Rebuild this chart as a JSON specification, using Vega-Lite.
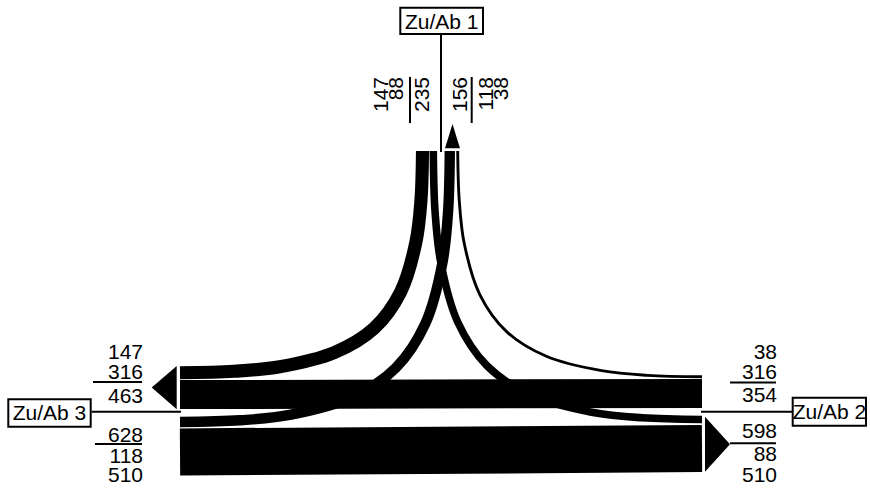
{
  "$schema": "https://vega.github.io/schema/vega-lite/v6.json",
  "width": 870,
  "height": 488,
  "autosize": {"type": "none"},
  "padding": 0,
  "background": "white",
  "config": {"view": {"stroke": null}},
  "datasets": {
    "flows": [
      {"flow": "1-3", "value": 147, "seq": 0, "x": 422.5, "y": 151},
      {"flow": "1-3", "value": 147, "seq": 1, "x": 420.95, "y": 200.3},
      {"flow": "1-3", "value": 147, "seq": 2, "x": 415.9, "y": 242.1},
      {"flow": "1-3", "value": 147, "seq": 3, "x": 400.5, "y": 292.2},
      {"flow": "1-3", "value": 147, "seq": 4, "x": 374.0, "y": 328.4},
      {"flow": "1-3", "value": 147, "seq": 5, "x": 334.5, "y": 352.5},
      {"flow": "1-3", "value": 147, "seq": 6, "x": 279.7, "y": 366.7},
      {"flow": "1-3", "value": 147, "seq": 7, "x": 233.9, "y": 371.3},
      {"flow": "1-3", "value": 147, "seq": 8, "x": 180, "y": 372.7},
      {"flow": "1-2", "value": 88, "seq": 0, "x": 433.3, "y": 151},
      {"flow": "1-2", "value": 88, "seq": 1, "x": 435.0, "y": 210.7},
      {"flow": "1-2", "value": 88, "seq": 2, "x": 440.6, "y": 261.4},
      {"flow": "1-2", "value": 88, "seq": 3, "x": 457.7, "y": 322.0},
      {"flow": "1-2", "value": 88, "seq": 4, "x": 487.0, "y": 365.8},
      {"flow": "1-2", "value": 88, "seq": 5, "x": 530.8, "y": 395.1},
      {"flow": "1-2", "value": 88, "seq": 6, "x": 591.6, "y": 412.2},
      {"flow": "1-2", "value": 88, "seq": 7, "x": 642.2, "y": 417.8},
      {"flow": "1-2", "value": 88, "seq": 8, "x": 702, "y": 419.5},
      {"flow": "3-1", "value": 118, "seq": 0, "x": 449.8, "y": 151},
      {"flow": "3-1", "value": 118, "seq": 1, "x": 448.1, "y": 211.3},
      {"flow": "3-1", "value": 118, "seq": 2, "x": 442.5, "y": 262.4},
      {"flow": "3-1", "value": 118, "seq": 3, "x": 425.3, "y": 323.6},
      {"flow": "3-1", "value": 118, "seq": 4, "x": 395.8, "y": 367.8},
      {"flow": "3-1", "value": 118, "seq": 5, "x": 351.9, "y": 397.3},
      {"flow": "3-1", "value": 118, "seq": 6, "x": 290.9, "y": 414.7},
      {"flow": "3-1", "value": 118, "seq": 7, "x": 240.0, "y": 420.3},
      {"flow": "3-1", "value": 118, "seq": 8, "x": 180, "y": 422},
      {"flow": "2-1", "value": 38, "seq": 0, "x": 457.7, "y": 151},
      {"flow": "2-1", "value": 38, "seq": 1, "x": 459.3, "y": 201.2},
      {"flow": "2-1", "value": 38, "seq": 2, "x": 464.3, "y": 243.8},
      {"flow": "2-1", "value": 38, "seq": 3, "x": 479.9, "y": 294.8},
      {"flow": "2-1", "value": 38, "seq": 4, "x": 506.6, "y": 331.6},
      {"flow": "2-1", "value": 38, "seq": 5, "x": 546.4, "y": 356.3},
      {"flow": "2-1", "value": 38, "seq": 6, "x": 601.6, "y": 370.7},
      {"flow": "2-1", "value": 38, "seq": 7, "x": 647.7, "y": 375.4},
      {"flow": "2-1", "value": 38, "seq": 8, "x": 702, "y": 376.8},
      {"flow": "2-3", "value": 316, "seq": 0, "x": 702, "y": 393.4},
      {"flow": "2-3", "value": 316, "seq": 1, "x": 180, "y": 394.6},
      {"flow": "3-2", "value": 510, "seq": 0, "x": 180, "y": 452},
      {"flow": "3-2", "value": 510, "seq": 1, "x": 702, "y": 448.5}
    ],
    "arrows": [
      {"arm": "1", "x": 452.5, "y": 136.2},
      {"arm": "2", "x": 717.5, "y": 444.2},
      {"arm": "3", "x": 164.2, "y": 387.6}
    ],
    "boxes": [
      {"label": "Zu/Ab 1", "x": 400.3, "x2": 483, "y": 7.7, "y2": 34, "tx": 441.7, "ty": 29.3},
      {"label": "Zu/Ab 3", "x": 8.3, "x2": 90.7, "y": 399.3, "y2": 426.7, "tx": 49.5, "ty": 420},
      {"label": "Zu/Ab 2", "x": 792.7, "x2": 866, "y": 397.7, "y2": 425.7, "tx": 829.5, "ty": 419.3}
    ],
    "lines": [
      {"x": 441, "y": 35, "x2": 441, "y2": 152},
      {"x": 91.7, "y": 411.7, "x2": 181, "y2": 411.7},
      {"x": 701, "y": 411.7, "x2": 792, "y2": 411.7},
      {"x": 93, "y": 382, "x2": 142, "y2": 382},
      {"x": 95, "y": 444, "x2": 142, "y2": 444},
      {"x": 730, "y": 382.5, "x2": 776, "y2": 382.5},
      {"x": 730, "y": 443.3, "x2": 776, "y2": 443.3},
      {"x": 410, "y": 77, "x2": 410, "y2": 123},
      {"x": 471.7, "y": 77, "x2": 471.7, "y2": 123}
    ],
    "sideLabels": [
      {"text": "147", "x": 143, "y": 359},
      {"text": "316", "x": 143, "y": 379},
      {"text": "463", "x": 143, "y": 402.7},
      {"text": "628", "x": 143, "y": 441.7},
      {"text": "118", "x": 143, "y": 463.3},
      {"text": "510", "x": 143, "y": 481.7},
      {"text": "38", "x": 777, "y": 359.3},
      {"text": "316", "x": 777, "y": 379.3},
      {"text": "354", "x": 777, "y": 401.7},
      {"text": "598", "x": 777, "y": 438.3},
      {"text": "88", "x": 777, "y": 460.7},
      {"text": "510", "x": 777, "y": 481.7}
    ],
    "topLabels": [
      {"text": "147", "x": 388.3, "y": 77},
      {"text": "88", "x": 403.3, "y": 77},
      {"text": "235", "x": 429, "y": 77},
      {"text": "156", "x": 466.7, "y": 77},
      {"text": "118", "x": 493.3, "y": 77},
      {"text": "38", "x": 508.3, "y": 77}
    ]
  },
  "encoding": {
    "x": {"field": "x", "type": "quantitative", "scale": {"domain": [0, 870], "nice": false, "zero": false}, "axis": null},
    "y": {"field": "y", "type": "quantitative", "scale": {"domain": [0, 488], "reverse": true, "nice": false, "zero": false}, "axis": null}
  },
  "layer": [
    {
      "data": {"name": "flows"},
      "mark": {"type": "line", "interpolate": "catmull-rom", "color": "black", "strokeCap": "butt"},
      "encoding": {
        "detail": {"field": "flow"},
        "order": {"field": "seq", "type": "quantitative"},
        "strokeWidth": {"field": "value", "type": "quantitative", "scale": {"domain": [7.45, 1007.45], "range": [0, 94], "zero": false}, "legend": null}
      }
    },
    {
      "data": {"name": "arrows"},
      "transform": [{"filter": "datum.arm === '1'"}],
      "mark": {"type": "point", "filled": true, "color": "black", "opacity": 1, "strokeWidth": 0, "size": 590, "shape": "M -0.617 1 L 0 -1 L 0.617 1 Z"}
    },
    {
      "data": {"name": "arrows"},
      "transform": [{"filter": "datum.arm === '2'"}],
      "mark": {"type": "point", "filled": true, "color": "black", "opacity": 1, "strokeWidth": 0, "size": 3025, "shape": "M -0.455 -1 L 0.455 0 L -0.455 1 Z"}
    },
    {
      "data": {"name": "arrows"},
      "transform": [{"filter": "datum.arm === '3'"}],
      "mark": {"type": "point", "filled": true, "color": "black", "opacity": 1, "strokeWidth": 0, "size": 1875, "shape": "M 0.577 -1 L -0.577 0 L 0.577 1 Z"}
    },
    {
      "data": {"name": "lines"},
      "mark": {"type": "rule", "color": "black", "strokeWidth": 2},
      "encoding": {
        "x2": {"field": "x2"},
        "y2": {"field": "y2"}
      }
    },
    {
      "data": {"name": "boxes"},
      "mark": {"type": "rect", "fill": "white", "stroke": "black", "strokeWidth": 2},
      "encoding": {
        "x2": {"field": "x2"},
        "y2": {"field": "y2"}
      }
    },
    {
      "data": {"name": "boxes"},
      "mark": {"type": "text", "font": "Liberation Sans", "fontSize": 21, "align": "center", "baseline": "alphabetic", "color": "black"},
      "encoding": {
        "x": {"field": "tx", "type": "quantitative"},
        "y": {"field": "ty", "type": "quantitative"},
        "text": {"field": "label"}
      }
    },
    {
      "data": {"name": "sideLabels"},
      "mark": {"type": "text", "font": "Liberation Sans", "fontSize": 21, "align": "right", "baseline": "alphabetic", "color": "black"},
      "encoding": {"text": {"field": "text"}}
    },
    {
      "data": {"name": "topLabels"},
      "mark": {"type": "text", "font": "Liberation Sans", "fontSize": 21, "align": "right", "baseline": "alphabetic", "angle": 270, "color": "black"},
      "encoding": {"text": {"field": "text"}}
    }
  ]
}
